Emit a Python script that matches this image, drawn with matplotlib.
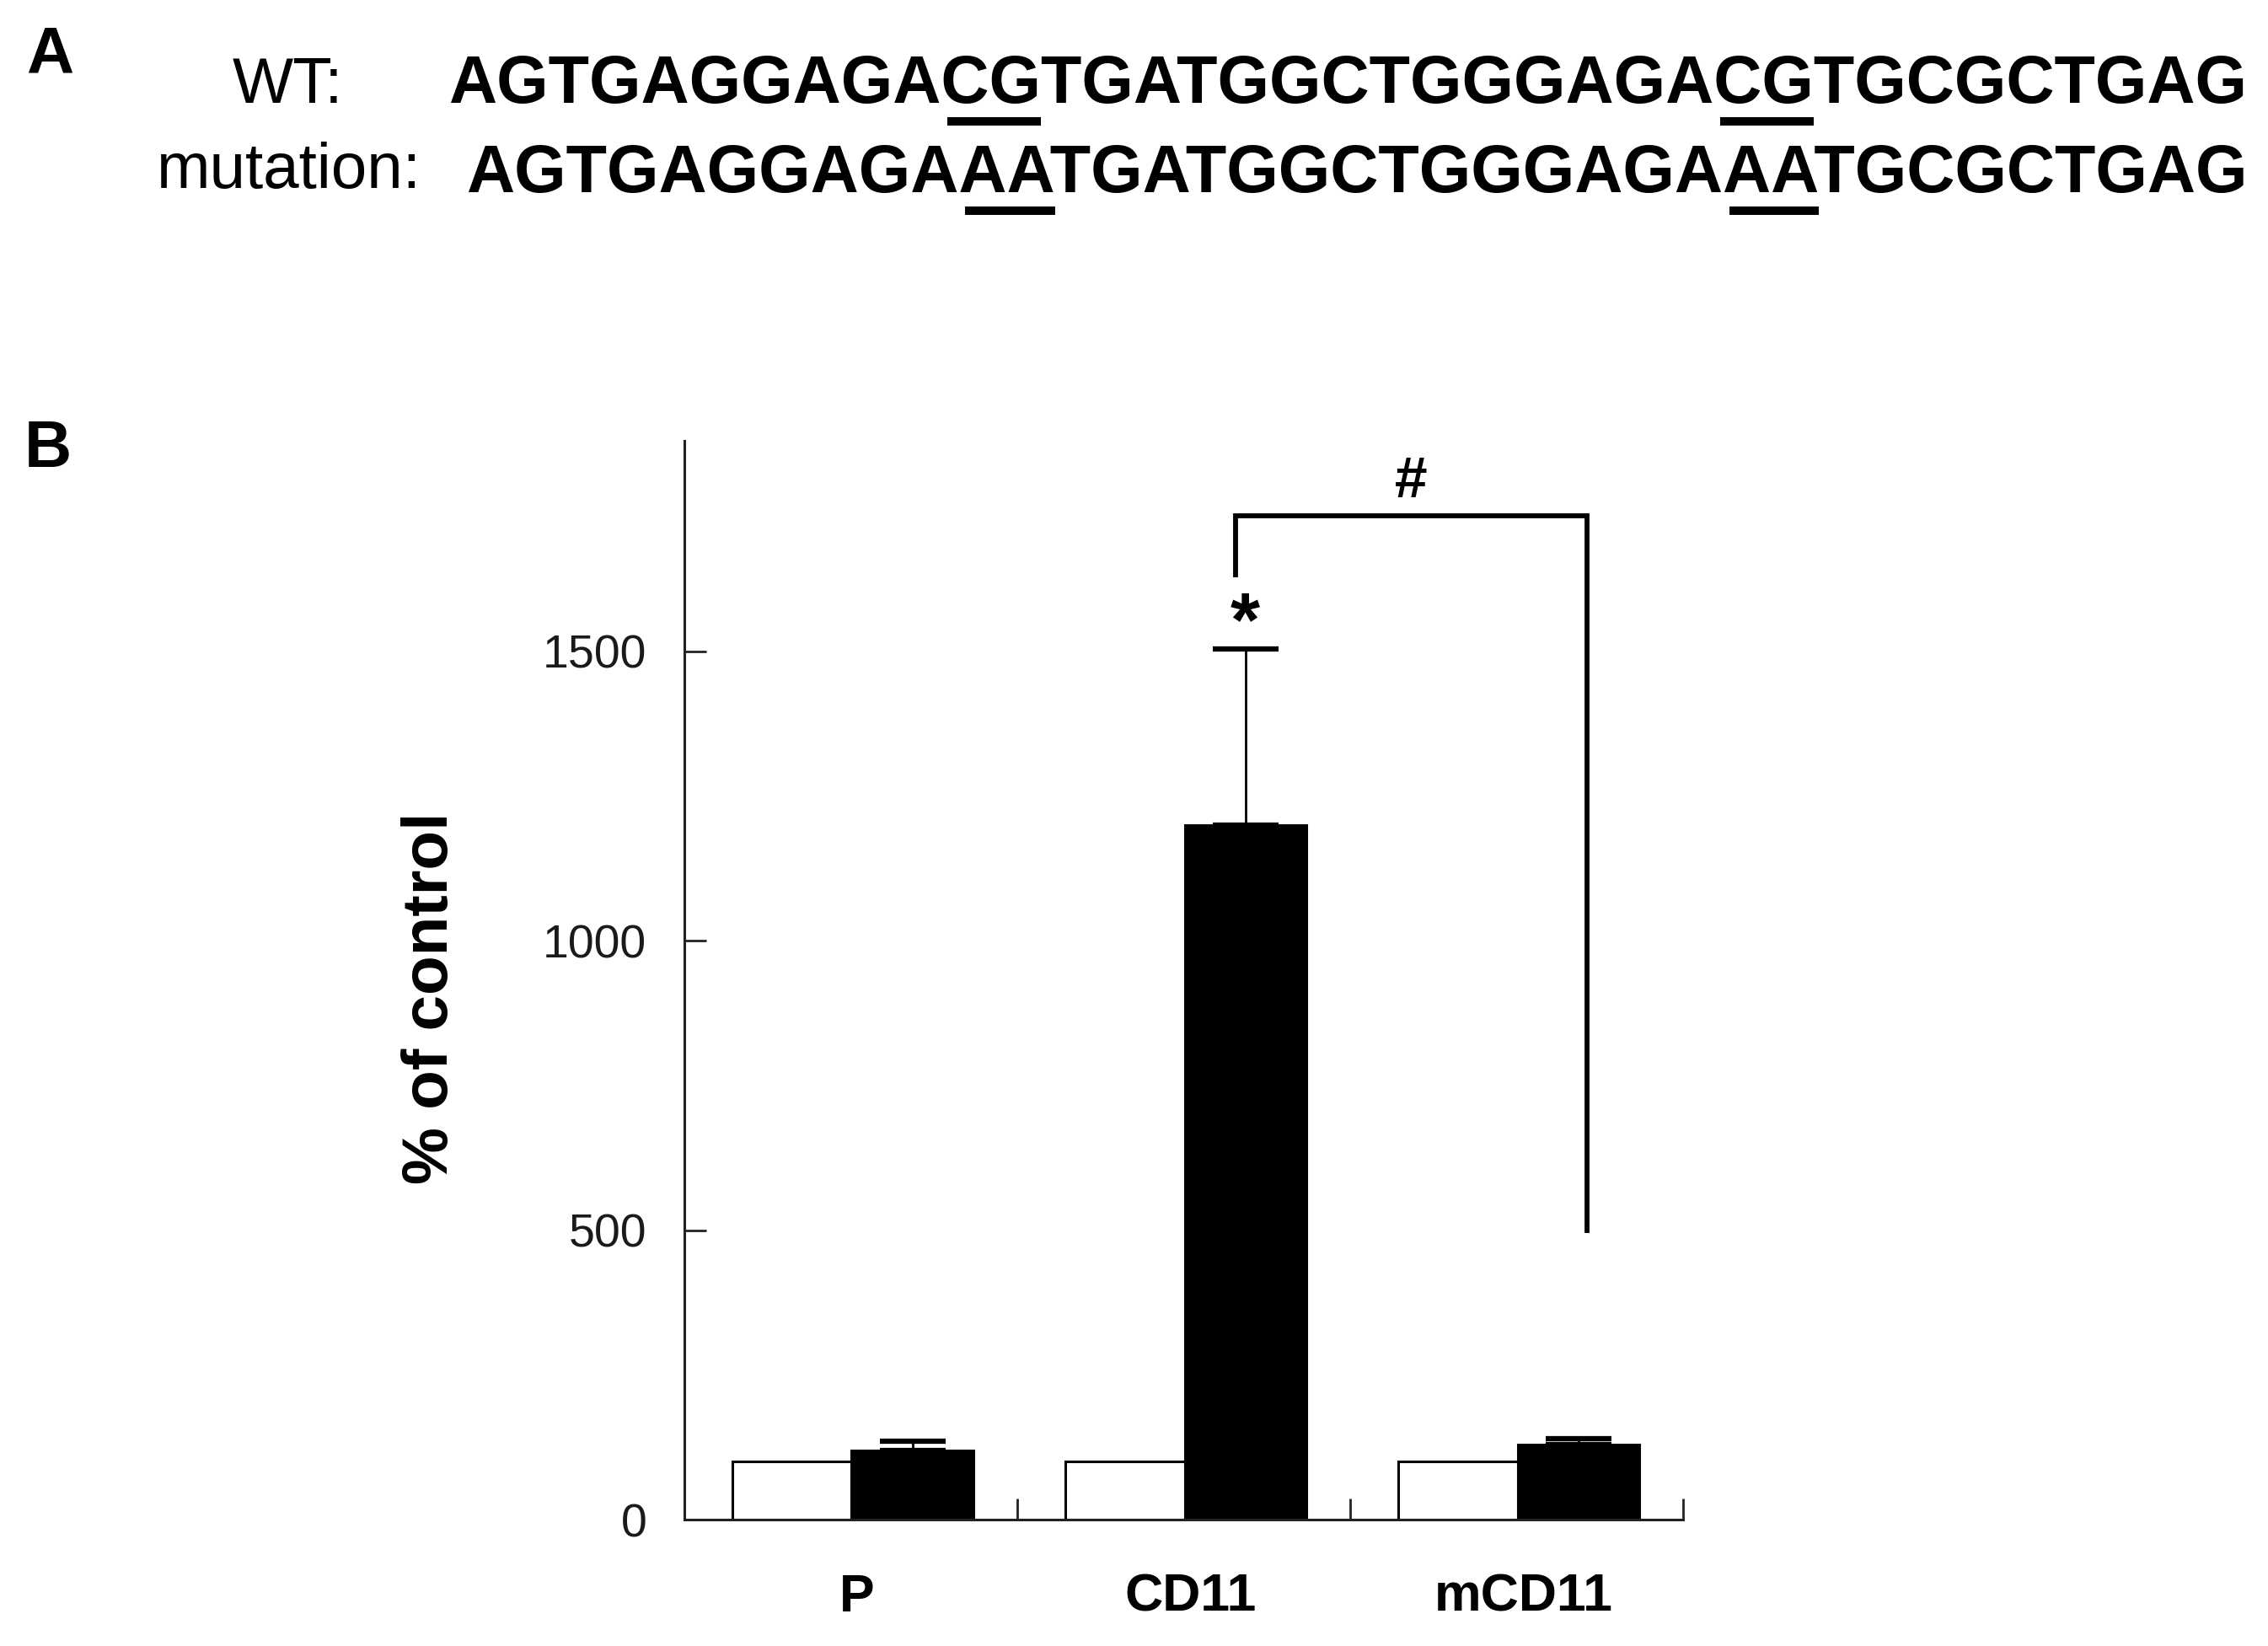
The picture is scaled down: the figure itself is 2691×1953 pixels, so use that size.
"""Two-panel figure: CpG site mutation (A) and reporter activity (B)."""
import matplotlib
matplotlib.use("Agg")
import numpy as np
from matplotlib import pyplot as plt
from matplotlib.patches import Rectangle

plt.rcParams['font.family'] = ['Liberation Sans', 'DejaVu Sans']

# panel A data
WT_SEQ = 'AGTGAGGAGACGTGATGGCTGGGAGACGTGCGCTGAG'
MUT_SEQ = 'AGTGAGGAGAAATGATGGCTGGGAGAAATGCGCTGAG'
SITE_STARTS = [10, 26]
SITE_LEN = 2

# panel B data
GROUPS = ['P', 'CD11', 'mCD11']
CONTROL = [100, 100, 100]
TREATED = [120, 1200, 130]
TREATED_SEM = [15, 305, 10]
Y_TICKS = [0, 500, 1000, 1500]
Y_MAX = 1864
BRACKET_TOP = 1735
BRACKET_LEFT_FOOT = 1632
BRACKET_RIGHT_FOOT = 500

W, H = 2691, 1953
fig = plt.figure(figsize=(W / 100, H / 100), dpi=100)
fig.patch.set_facecolor('white')

# ---------------- panel A ----------------
fig.text(31 / W, 1 - 86 / H, 'A', fontsize=56, fontweight='bold', va='baseline')
fig.text(276 / W, 1 - 122 / H, 'WT:', fontsize=55, va='baseline')
fig.text(186 / W, 1 - 223 / H, 'mutation:', fontsize=55, va='baseline')

seq_kw = dict(fontsize=57, fontweight='bold', va='baseline')
rows = [(WT_SEQ, 532 / W, 1 - 122 / H), (MUT_SEQ, 553 / W, 1 - 228 / H)]
for seq, sx, sy in rows:
    fig.text(sx, sy, seq, **seq_kw)

# underline the mutated dinucleotides, measured from the rendered text
fig.canvas.draw()
renderer = fig.canvas.get_renderer()
for seq, sx, sy in rows:
    for start in SITE_STARTS:
        pre = fig.text(sx, sy, seq[:start], **seq_kw)
        upto = fig.text(sx, sy, seq[:start + SITE_LEN], **seq_kw)
        x1 = pre.get_window_extent(renderer).x1 + 8
        x2 = upto.get_window_extent(renderer).x1
        pre.remove()
        upto.remove()
        base_px = sy * H
        fig.add_artist(Rectangle((x1 / W, (base_px - 27) / H), (x2 - x1) / W, 10 / H,
                                 transform=fig.transFigure, color='black', lw=0))

# ---------------- panel B ----------------
fig.text(29 / W, 1 - 554 / H, 'B', fontsize=56, fontweight='bold', va='baseline')

ax = fig.add_axes([811.7 / W, 1 - 1803 / H, (1997 - 811.7) / W, (1803 - 523) / H])
x = np.arange(len(GROUPS))
ax.bar(x + 0.145, CONTROL, width=0.358, align='edge', color='white',
       edgecolor='black', linewidth=2.2, zorder=2)
ax.bar(x + 0.503, TREATED, width=0.365, align='edge', color='black',
       edgecolor='black', linewidth=2.2, zorder=2)
black_mid = x + 0.503 + 0.365 / 2
ax.errorbar(black_mid, TREATED, yerr=[np.zeros(len(TREATED)), TREATED_SEM],
            fmt='none', ecolor='black', elinewidth=2, capsize=28, capthick=4.5, zorder=1)

ax.set_xlim(0, len(GROUPS))
ax.set_ylim(0, Y_MAX)
ax.set_yticks(Y_TICKS)
ax.set_xticks(x + 0.52)
ax.set_xticklabels(GROUPS, fontsize=45, fontweight='bold')
ax.set_xticks(x + 1, minor=True)
ax.tick_params(axis='x', which='major', length=0, pad=45)
ax.tick_params(axis='x', which='minor', direction='in', length=18, width=2, color='#222222')
ax.tick_params(axis='y', direction='in', length=19, width=2, pad=32, labelsize=40,
               color='#222222', labelcolor='#1a1a1a')
for side in ['top', 'right']:
    ax.spines[side].set_visible(False)
for side in ['left', 'bottom']:
    ax.spines[side].set_linewidth(2.2)
    ax.spines[side].set_color('#222222')

ax.set_ylabel('% of control', fontsize=55, fontweight='bold')
ax.yaxis.set_label_coords(-0.2233, 0.4836)

# significance marks
top_cd11 = TREATED[1] + TREATED_SEM[1]
ax.text(black_mid[1], top_cd11 + 5, '*', fontsize=65, fontweight='bold',
        ha='center', va='baseline')
xl = black_mid[1] - 0.03
xr = black_mid[2] + 0.025
ax.plot([xl, xl, xr, xr], [BRACKET_LEFT_FOOT, BRACKET_TOP, BRACKET_TOP, BRACKET_RIGHT_FOOT],
        color='black', lw=4.2, solid_joinstyle='miter', clip_on=False)
ax.text((xl + xr) / 2, 1766, '#', fontsize=50, fontweight='bold', ha='center', va='baseline')

fig.savefig('out.png', dpi=100)
